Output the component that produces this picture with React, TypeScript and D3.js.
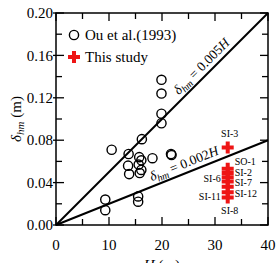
import React from 'react';
import * as d3 from 'd3';

// Ou et al. (1993) case records: excavation depth H (m) vs. max settlement (m)
const ouH = [9.3, 9.3, 10.5, 13.7, 13.6, 13.8, 16.2, 15.7, 16.1, 15.6, 15.8, 16.1, 15.5, 15.5, 18.2, 19.9, 19.9, 19.9, 19.9, 21.7, 21.8];
const ouDelta = [0.014, 0.024, 0.071, 0.067, 0.056, 0.048, 0.081, 0.064, 0.061, 0.057, 0.049, 0.052, 0.027, 0.022, 0.063, 0.137, 0.124, 0.105, 0.096, 0.067, 0.066];

// This study
const studyIds = ['SI-3', 'SO-1', 'SI-2', 'SI-6', 'SI-7', 'SI-12', 'SI-11', 'SI-8'];
const studyH = [32.4, 32.4, 32.4, 32.4, 32.4, 32.4, 32.4, 32.4];
const studyDelta = [0.073, 0.053, 0.049, 0.045, 0.041, 0.036, 0.031, 0.026];

// label placement for the study points: [dx, dy, anchor]
const studyLabelPos: [number, number, string][] = [
  [2, -14, 'middle'],
  [7, -7, 'start'],
  [7, -1, 'start'],
  [-7, 1, 'end'],
  [7, 1, 'start'],
  [7, 7, 'start'],
  [-7, 4, 'end'],
  [2, 13, 'middle'],
];

const xTicks = [0, 10, 20, 30, 40];
const yTicks = [0, 0.04, 0.08, 0.12, 0.16, 0.2];
const ratios = [0.005, 0.002];

const W = 277;
const H = 263;
const margin = { top: 13, right: 9, bottom: 38, left: 56 };
const serif = '"Liberation Serif", "DejaVu Serif", serif';
const red = '#ee1515';

export default function App() {
  const x = d3.scaleLinear().domain([0, 40]).range([margin.left, W - margin.right]);
  const y = d3.scaleLinear().domain([0, 0.2]).range([H - margin.bottom, margin.top]);
  const x0 = x.range()[0], x1 = x.range()[1];
  const y0 = y.range()[0], y1 = y.range()[1];

  const xMinor = d3.range(0, 40.01, 5);
  const yMinor = d3.range(0, 0.2001, 0.02);
  const cross = d3.symbol(d3.symbolCross, 80)() as string;

  // δ = kH reference lines, with a rotated label along each
  const lineLabel = (k: number, h0: number) => {
    const angle = (Math.atan2(y(k * 40) - y(0), x(40) - x(0)) * 180) / Math.PI;
    return { px: x(h0), py: y(k * h0), angle };
  };
  const labels = [lineLabel(0.005, 28.7), lineLabel(0.002, 24.8)];

  return (
    <div style={{ position: 'fixed', left: 0, top: 0 }}>
      <svg width={W} height={H} style={{ display: 'block', background: '#fff' }} fontFamily={serif}>
        {/* ticks on all four sides, pointing inward */}
        {xMinor.map((v) => {
          const len = v % 10 === 0 ? 8 : 6;
          return (
            <g key={'xt' + v} stroke="#000" strokeWidth={1.3}>
              <line x1={x(v)} x2={x(v)} y1={y0} y2={y0 - len} />
              <line x1={x(v)} x2={x(v)} y1={y1} y2={y1 + len} />
            </g>
          );
        })}
        {yMinor.map((v, i) => {
          const major = i % 2 === 0;
          const len = major ? 8 : 6;
          return (
            <g key={'yt' + i} stroke="#000" strokeWidth={1.3}>
              <line x1={x0 - (major ? 3 : 0)} x2={x0 + len} y1={y(v)} y2={y(v)} />
              <line x1={x1} x2={x1 - len} y1={y(v)} y2={y(v)} />
            </g>
          );
        })}

        {xTicks.map((v) => (
          <text key={'xl' + v} x={x(v)} y={y0 + 25} fontSize={15} textAnchor="middle">
            {v}
          </text>
        ))}
        {yTicks.map((v) => (
          <text key={'yl' + v} x={x0 - 3} y={y(v)} dy="0.35em" fontSize={15} textAnchor="end">
            {d3.format('.2f')(v)}
          </text>
        ))}

        {/* axis titles */}
        <text transform={`translate(21,${(y0 + y1) / 2}) rotate(-90)`} fontSize={15} textAnchor="middle">
          <tspan fontStyle="italic">δ</tspan>
          <tspan fontStyle="italic" fontSize={11} dy={3}>hm</tspan>
          <tspan dy={-3}> (m)</tspan>
        </text>
        <text x={(x0 + x1) / 2} y={H + 7} fontSize={15} textAnchor="middle">
          <tspan fontStyle="italic">H</tspan> (m)
        </text>

        {/* reference lines */}
        {ratios.map((k) => (
          <line key={'r' + k} x1={x(0)} y1={y(0)} x2={x(40)} y2={y(k * 40)} stroke="#000" strokeWidth={2} />
        ))}
        {labels.map((l, i) => (
          <text
            key={'ll' + i}
            transform={`translate(${l.px},${l.py}) rotate(${l.angle})`}
            dy={-5}
            fontSize={13.5}
            textAnchor="middle"
          >
            <tspan fontStyle="italic">δ</tspan>
            <tspan fontStyle="italic" fontSize={10} dy={3}>hm</tspan>
            <tspan dy={-3}>{` = ${ratios[i]}`}</tspan>
            <tspan fontStyle="italic">H</tspan>
          </text>
        ))}

        {/* Ou et al. data */}
        {ouH.map((h, i) => (
          <circle key={'o' + i} cx={x(h)} cy={y(ouDelta[i])} r={4.6} fill="none" stroke="#000" strokeWidth={1.4} />
        ))}

        {/* this study */}
        {studyH.map((h, i) => (
          <path key={'s' + i} d={cross} transform={`translate(${x(h)},${y(studyDelta[i])})`} fill={red} />
        ))}
        {studyIds.map((id, i) => {
          const [dx, dy, anchor] = studyLabelPos[i];
          return (
            <text
              key={'sl' + id}
              x={x(studyH[i]) + dx}
              y={y(studyDelta[i]) + dy}
              dy="0.35em"
              fontSize={10}
              textAnchor={anchor as any}
            >
              {id}
            </text>
          );
        })}

        {/* legend */}
        <circle cx={74} cy={35} r={4.6} fill="none" stroke="#000" strokeWidth={1.4} />
        <text x={85} y={35} dy="0.35em" fontSize={15}>Ou et al.(1993)</text>
        <path d={cross} transform="translate(74,57)" fill={red} />
        <text x={85} y={57} dy="0.35em" fontSize={15}>This study</text>

        {/* frame */}
        <rect x={x0} y={y1} width={x1 - x0} height={y0 - y1} fill="none" stroke="#000" strokeWidth={1.5} />
      </svg>
    </div>
  );
}
